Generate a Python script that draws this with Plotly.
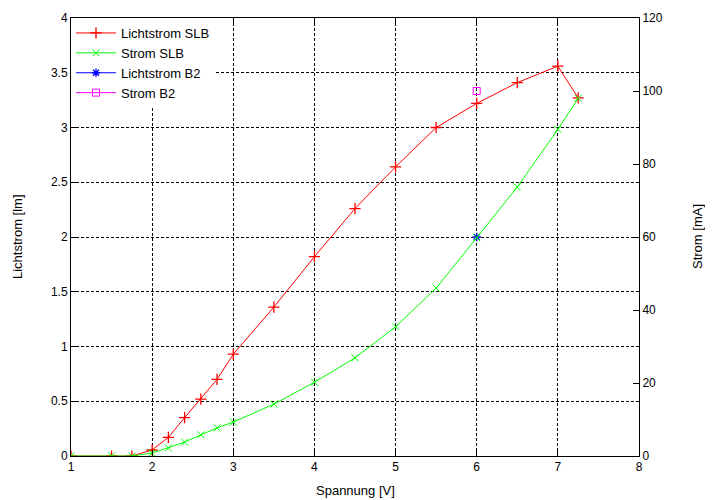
import plotly.graph_objects as go

spannung = [1, 1.5, 1.75, 2, 2.2, 2.4, 2.6, 2.8, 3, 3.5, 4, 4.5, 5, 5.5, 6, 6.5, 7, 7.25]
lichtstrom_slb = [0, 0, 0, 0.055, 0.17, 0.35, 0.52, 0.7, 0.93, 1.36, 1.82, 2.26, 2.64, 3.0, 3.22, 3.41, 3.56, 3.27]
strom_slb = [0, 0, 0, 0.8, 2.2, 3.8, 5.8, 7.7, 9.3, 14.2, 20.2, 26.9, 35.4, 46.0, 59.8, 73.7, 89.5, 98.0]
spannung_b2 = [6]
lichtstrom_b2 = [2.0]
strom_b2 = [100]

x_ticks = [1, 2, 3, 4, 5, 6, 7, 8]
y_ticks = [0, 0.5, 1, 1.5, 2, 2.5, 3, 3.5, 4]
y_ticklabels = ["0", "0.5", "1", "1.5", "2", "2.5", "3", "3.5", "4"]
y2_ticks = [0, 20, 40, 60, 80, 100, 120]

fig = go.Figure()
fig.add_trace(go.Scatter(x=spannung, y=lichtstrom_slb, name="Lichtstrom SLB", mode="lines+markers",
                         line=dict(color="#ff0000", width=1),
                         marker=dict(symbol="cross-thin", size=8, line=dict(color="#ff0000", width=1.3))))
fig.add_trace(go.Scatter(x=spannung, y=strom_slb, name="Strom SLB", mode="lines+markers", yaxis="y2",
                         line=dict(color="#00ff00", width=1),
                         marker=dict(symbol="x-thin", size=7, line=dict(color="#00ff00", width=1))))
fig.add_trace(go.Scatter(x=spannung_b2, y=lichtstrom_b2, name="Lichtstrom B2", mode="lines+markers",
                         line=dict(color="#0000ff", width=1),
                         marker=dict(symbol="asterisk", size=7, line=dict(color="#0000ff", width=1.3))))
fig.add_trace(go.Scatter(x=spannung_b2, y=strom_b2, name="Strom B2", mode="lines+markers", yaxis="y2",
                         line=dict(color="#ff00ff", width=1),
                         marker=dict(symbol="square-open", size=7, color="#ff00ff", line=dict(color="#ff00ff", width=1))))

font = dict(family="Liberation Sans, Arial, sans-serif", size=12, color="black")
grid = dict(showgrid=True, gridcolor="black", griddash="3px,2px", gridwidth=1)
fig.update_layout(
    width=705, height=492,
    margin=dict(l=63, r=74, t=10, b=44),
    paper_bgcolor="white", plot_bgcolor="white",
    font=font,
    showlegend=True,
    legend=dict(x=0.0, y=1.0, xanchor="left", yanchor="top", bgcolor="white",
                font=dict(size=13), tracegroupgap=0, itemwidth=40,
                borderwidth=0),
    xaxis=dict(range=[1, 8], tickvals=x_ticks, ticks="inside", ticklen=6, tickcolor="black",
               showline=True, linecolor="black", linewidth=1, mirror="ticks", zeroline=False,
               automargin=False, **grid),
    yaxis=dict(range=[0, 4], tickvals=y_ticks, ticktext=y_ticklabels, ticks="inside", ticklen=6, tickcolor="black",
               showline=True, linecolor="black", linewidth=1, mirror=True, zeroline=False,
               automargin=False, **grid),
    yaxis2=dict(range=[0, 120], tickvals=y2_ticks, overlaying="y", side="right", ticks="inside", ticklen=6,
                tickcolor="black", showgrid=False, showline=True, linecolor="black", zeroline=False,
                automargin=False),
    annotations=[
        dict(text="Spannung [V]", xref="paper", yref="paper", x=0.5, y=-0.0, yshift=-34,
             showarrow=False, font=dict(size=13), yanchor="middle"),
        dict(text="Lichtstrom [lm]", xref="paper", yref="paper", x=0, xshift=-54, y=0.5,
             textangle=-90, showarrow=False, font=dict(size=13), xanchor="center"),
        dict(text="Strom [mA]", xref="paper", yref="paper", x=1, xshift=58, y=0.5,
             textangle=-90, showarrow=False, font=dict(size=13), xanchor="center"),
    ],
)

fig.write_html("out.html")
